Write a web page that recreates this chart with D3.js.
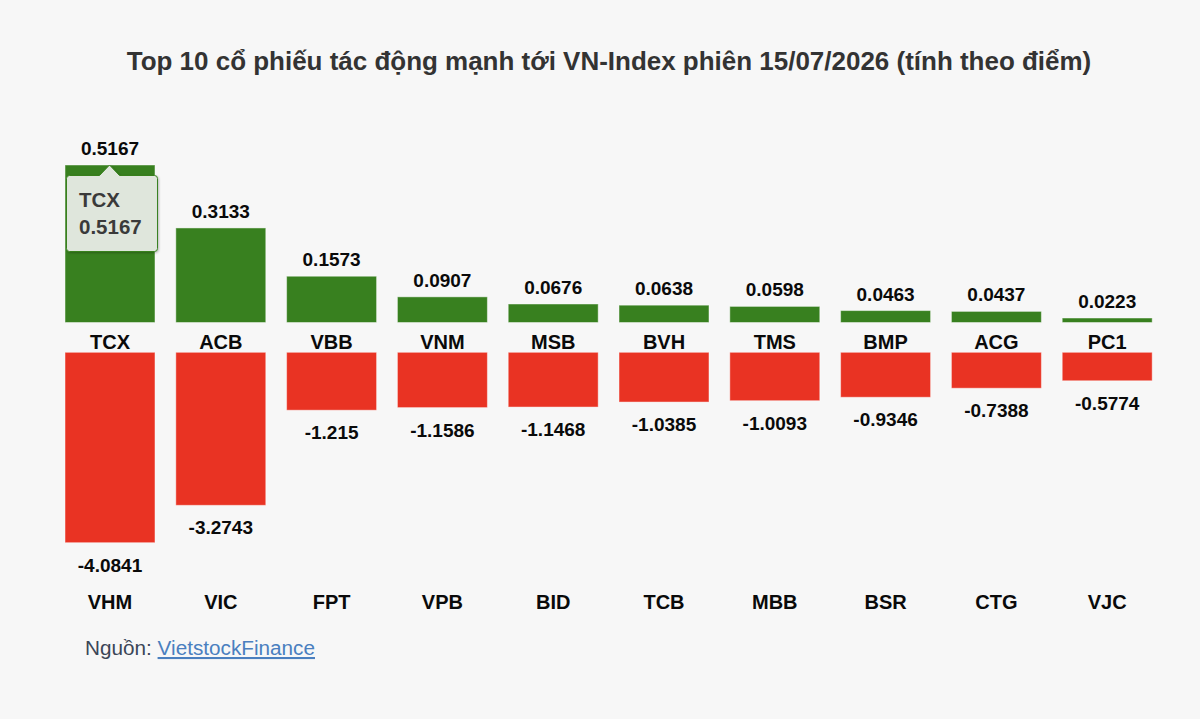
<!DOCTYPE html>
<html>
<head>
<meta charset="utf-8">
<script src="https://cdn.jsdelivr.net/npm/d3@7"></script>
<style>
  html, body { margin: 0; padding: 0; background: #f7f7f7; }
  svg { display: block; font-family: "Liberation Sans", Arial, Helvetica, sans-serif; }
</style>
</head>
<body>
<svg id="chart" width="1200" height="719"></svg>
<script>
// top row: stocks pushing the index up
const posCats = ["TCX", "ACB", "VBB", "VNM", "MSB", "BVH", "TMS", "BMP", "ACG", "PC1"];
const posVals = [0.5167, 0.3133, 0.1573, 0.0907, 0.0676, 0.0638, 0.0598, 0.0463, 0.0437, 0.0223];
// bottom row: stocks pulling the index down
const negCats = ["VHM", "VIC", "FPT", "VPB", "BID", "TCB", "MBB", "BSR", "CTG", "VJC"];
const negVals = [-4.0841, -3.2743, -1.215, -1.1586, -1.1468, -1.0385, -1.0093, -0.9346, -0.7388, -0.5774];

const titleText = "Top 10 cổ phiếu tác động mạnh tới VN-Index phiên 15/07/2026 (tính theo điểm)";

const green = "#38801f";
const red = "#e93323";

const svg = d3.select("#chart");

// shrink/grow a text node so it spans a given width
function fitWidth(sel, size, target) {
    sel.attr("font-size", size);
    const w = sel.node().getComputedTextLength();
    sel.attr("font-size", size * target / w);
}

// title
const title = svg.append("text")
    .attr("x", 609)
    .attr("y", 70)
    .attr("text-anchor", "middle")
    .attr("fill", "#333")
    .attr("font-weight", "bold")
    .text(titleText);
fitWidth(title, 20, 965);

// shared x scale for both rows
const x = d3.scaleBand()
    .domain(d3.range(posCats.length))
    .range([54.6, 1162.6])
    .paddingInner(0.188)
    .paddingOuter(0.094);

// separate y scales (the two panels are scaled independently)
const yPos = d3.scaleLinear()
    .domain([0.0078, d3.max(posVals)])
    .range([322.5, 165])
    .clamp(true);

const yNeg = d3.scaleLinear()
    .domain([0.039, d3.min(negVals)])
    .range([352.3, 542.7]);

// positive bars
const gPos = svg.append("g");
gPos.selectAll("rect")
    .data(posVals)
    .join("rect")
    .attr("x", (d, i) => x(i))
    .attr("width", x.bandwidth())
    .attr("y", d => yPos(d))
    .attr("height", d => yPos.range()[0] - yPos(d))
    .attr("fill", green)
    .attr("stroke", "rgba(255,255,255,0.45)")
    .attr("stroke-width", 1);

gPos.selectAll("text.val")
    .data(posVals)
    .join("text")
    .attr("class", "val")
    .attr("x", (d, i) => x(i) + x.bandwidth() / 2)
    .attr("y", d => yPos(d) - 10)
    .attr("text-anchor", "middle")
    .attr("font-size", 19)
    .attr("font-weight", "bold")
    .attr("fill", "#0a0a0a")
    .text(d => String(d));

gPos.selectAll("text.cat")
    .data(posCats)
    .join("text")
    .attr("class", "cat")
    .attr("x", (d, i) => x(i) + x.bandwidth() / 2)
    .attr("y", 349)
    .attr("text-anchor", "middle")
    .attr("font-size", 20)
    .attr("font-weight", "bold")
    .attr("fill", "#0a0a0a")
    .text(d => d);

// negative bars
const gNeg = svg.append("g");
gNeg.selectAll("rect")
    .data(negVals)
    .join("rect")
    .attr("x", (d, i) => x(i))
    .attr("width", x.bandwidth())
    .attr("y", yNeg.range()[0])
    .attr("height", d => yNeg(d) - yNeg.range()[0])
    .attr("fill", red)
    .attr("stroke", "rgba(255,255,255,0.45)")
    .attr("stroke-width", 1);

gNeg.selectAll("text.val")
    .data(negVals)
    .join("text")
    .attr("class", "val")
    .attr("x", (d, i) => x(i) + x.bandwidth() / 2)
    .attr("y", d => yNeg(d) + 29)
    .attr("text-anchor", "middle")
    .attr("font-size", 19)
    .attr("font-weight", "bold")
    .attr("fill", "#0a0a0a")
    .text(d => String(d));

gNeg.selectAll("text.cat")
    .data(negCats)
    .join("text")
    .attr("class", "cat")
    .attr("x", (d, i) => x(i) + x.bandwidth() / 2)
    .attr("y", 609)
    .attr("text-anchor", "middle")
    .attr("font-size", 20)
    .attr("font-weight", "bold")
    .attr("fill", "#0a0a0a")
    .text(d => d);

// tooltip on the first bar
const defs = svg.append("defs");
const f = defs.append("filter").attr("id", "shadow").attr("x", "-20%").attr("y", "-20%").attr("width", "150%").attr("height", "150%");
f.append("feDropShadow").attr("dx", 1).attr("dy", 1).attr("stdDeviation", 1.2).attr("flood-color", "#000").attr("flood-opacity", 0.25);

const tipX = x(0) + x.bandwidth() / 2 - 0.5;
const tipY = yPos(posVals[0]);
const bx0 = x(0) + 1.5, bx1 = x(0) + x.bandwidth() + 2.5, by0 = tipY + 10.5, by1 = tipY + 86.5, r = 3;
const tipPath = d3.path();
tipPath.moveTo(bx0 + r, by0);
tipPath.lineTo(tipX - 10, by0);
tipPath.lineTo(tipX, tipY);
tipPath.lineTo(tipX + 10, by0);
tipPath.lineTo(bx1 - r, by0);
tipPath.arcTo(bx1, by0, bx1, by0 + r, r);
tipPath.lineTo(bx1, by1 - r);
tipPath.arcTo(bx1, by1, bx1 - r, by1, r);
tipPath.lineTo(bx0 + r, by1);
tipPath.arcTo(bx0, by1, bx0, by1 - r, r);
tipPath.lineTo(bx0, by0 + r);
tipPath.arcTo(bx0, by0, bx0 + r, by0, r);
tipPath.closePath();

const tip = svg.append("g");
tip.append("path")
    .attr("d", tipPath.toString())
    .attr("fill", "#dfe6dc")
    .attr("stroke", green)
    .attr("stroke-width", 1)
    .attr("filter", "url(#shadow)");
tip.append("text")
    .attr("x", bx0 + 12.5)
    .attr("y", tipY + 42)
    .attr("font-size", 20.5)
    .attr("font-weight", "bold")
    .attr("fill", "#3a3a3a")
    .text(posCats[0]);
tip.append("text")
    .attr("x", bx0 + 12.5)
    .attr("y", tipY + 69)
    .attr("font-size", 20.5)
    .attr("font-weight", "bold")
    .attr("fill", "#3a3a3a")
    .text(String(posVals[0]));

// source line
const src = svg.append("text")
    .attr("x", 85)
    .attr("y", 655)
    .attr("fill", "#3b4657");
src.append("tspan").text("Nguồn: ");
src.append("tspan")
    .attr("fill", "#4a7fbf")
    .attr("text-decoration", "underline")
    .text("VietstockFinance");
fitWidth(src, 18, 230);
</script>
</body>
</html>
